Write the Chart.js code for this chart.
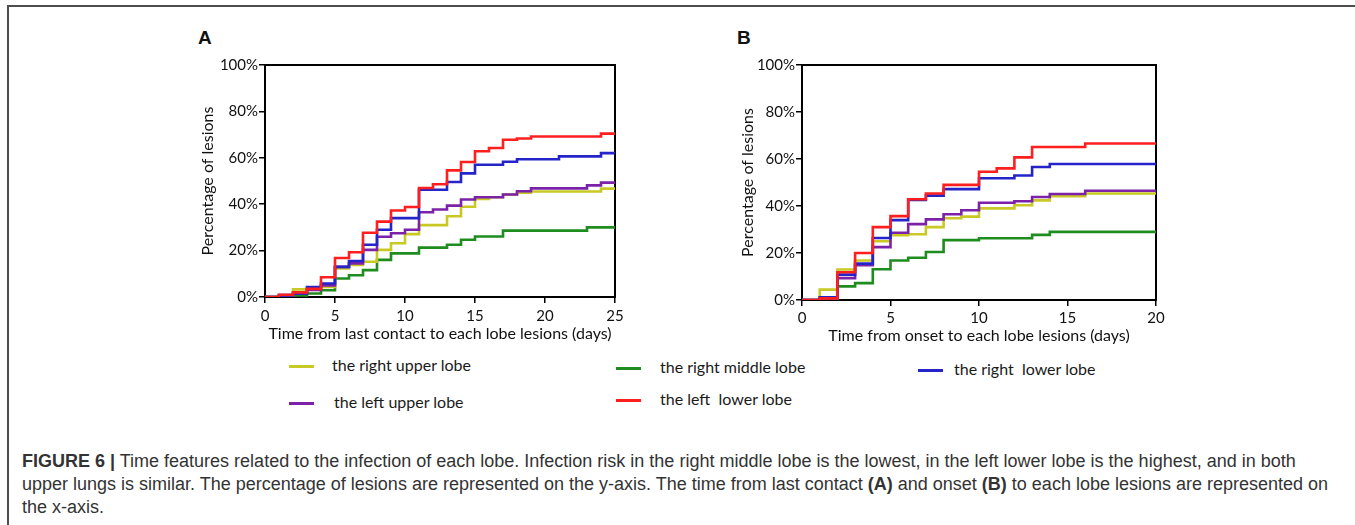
<!DOCTYPE html>
<html>
<head>
<meta charset="utf-8">
<script src="https://cdn.jsdelivr.net/npm/chart.js@4.4.1/dist/chart.umd.min.js"></script>
<style>
  html, body { margin: 0; padding: 0; background: #fff; }
  #page { position: relative; width: 1355px; height: 525px; overflow: hidden; background: #fff; }
  .frame { position: absolute; left: 7px; top: 5px; width: 1500px; height: 600px;
           border-top: 2px solid #4d4d4d; border-left: 2px solid #4d4d4d; }
  .panel { position: absolute; width: 440px; height: 300px; }
  .tag { position: absolute; font: bold 19px "Liberation Sans", Arial, sans-serif; color: #111; }
  .dash { position: absolute; width: 25px; height: 3px; }
  .legtext { position: absolute; font: 16px Lato, "Open Sans", sans-serif; color: #1a1a1a;
             white-space: pre; line-height: 20px; }
  .caption { position: absolute; left: 22px; top: 450px; font: 18px "Liberation Sans", Arial, sans-serif;
             color: #333; line-height: 23px; white-space: nowrap; }
</style>
</head>
<body>
<div id="page">
  <div class="frame"></div>
  <div class="tag" style="left:198px; top:27px;">A</div>
  <div class="tag" style="left:737px; top:27px;">B</div>
  <div class="panel" style="left:190px; top:50px;"><canvas id="chartA"></canvas></div>
  <div class="panel" style="left:730px; top:50px;"><canvas id="chartB"></canvas></div>
  <div id="legend"></div>
  <div class="caption"><b>FIGURE 6 |</b> Time features related to the infection of each lobe. Infection risk in the right middle lobe is the lowest, in the left lower lobe is the highest, and in both<br>upper lungs is similar. The percentage of lesions are represented on the y-axis. The time from last contact <b>(A)</b> and onset <b>(B)</b> to each lobe lesions are represented on<br>the x-axis.</div>
</div>
<script>
// ---- Data ----
const seriesNames = ['the left  lower lobe', 'the right  lower lobe', 'the left upper lobe', 'the right upper lobe', 'the right middle lobe'];
const seriesColors = ['#ff1f1f', '#2424c8', '#7b22a8', '#c9c926', '#1f8c1f'];
const yTicks = [0, 20, 40, 60, 80, 100];

// panel A: days since last contact, value from that day onward (%)
const daysA = [0,1,2,3,4,5,6,7,8,9,10,11,12,13,14,15,16,17,18,19,20,21,22,23,24,25];
const leftLowerA   = [0,1,2,3.5,8.5,16.8,19.3,27.7,32.5,37.3,38.8,47,48.6,54.6,58.2,62.8,64.2,67.8,68.3,69.2,69.2,69.2,69.2,69.2,70.4,70.4];
const rightLowerA  = [0,0.8,1.5,4.3,5.8,13,15.5,22.5,29,34,34,46.2,46.2,49.6,53.3,57,57,58.3,59.4,59.4,59.4,60.6,60.6,60.6,62,62];
const leftUpperA   = [0,0.5,1.5,3,5,13,14.5,20.3,26,27.5,29,36.5,37.7,39.4,42,43,43,44.2,45.6,46.8,46.8,46.8,46.8,48.1,49.3,49.3];
const rightUpperA  = [0,0.5,3.3,3.8,4.3,12.3,13.8,15.2,20.3,23.2,27.1,31,31,34.8,38.9,42.3,43,44.2,45,45.5,45.5,45.5,45.5,45.5,46.7,46.7];
const rightMiddleA = [0,0,0.7,1.5,2.9,8,9.4,11.6,16,18.8,18.8,21.3,21.3,22.5,24.7,26.1,26.1,28.6,28.6,28.6,28.6,28.6,28.6,30,30,30];

// panel B: days since onset
const daysB = [0,1,2,3,4,5,6,7,8,9,10,11,12,13,14,15,16,17,18,19,20];
const leftLowerB   = [0,0.7,11.8,20,31,35.7,42.9,45.3,49,49,54.6,56,60.7,65.1,65.1,65.1,66.6,66.6,66.6,66.6,66.6];
const rightLowerB  = [0,1.2,10.8,15.5,26.4,34,42.6,44.4,47.2,47.2,51.8,51.8,53,56.6,57.9,57.9,57.9,57.9,57.9,57.9,57.9];
const leftUpperB   = [0,0.7,9.3,14.8,22.5,28.6,32.3,34.3,36.5,38.2,41.4,41.4,42,43.8,45.1,45.1,46.5,46.5,46.5,46.5,46.5];
const rightUpperB  = [0,4.4,13,16.8,25,27.6,28,31,34.8,35.5,39,39,40.3,42.4,44.2,44.2,45.3,45.3,45.3,45.3,45.3];
const rightMiddleB = [0,0.3,5.8,7.2,13.1,16.8,18,20.4,25.5,25.5,26.3,26.3,26.3,27.7,29,29,29,29,29,29,29];

// ---- Plot box (drawn under the lines) ----
const boxPlugin = {
  id: 'boxPlugin',
  beforeDatasetsDraw(chart) {
    const a = chart.chartArea, ctx = chart.ctx;
    ctx.save();
    ctx.strokeStyle = '#000';
    ctx.lineWidth = 2;
    ctx.strokeRect(a.left, a.top, a.right - a.left, a.bottom - a.top);
    ctx.restore();
  }
};

function makeChart(id, days, values, xMax, xTitle, lay) {
  const tickFont = { family: 'Lato, "Open Sans", sans-serif', size: 15 };
  const titleFont = { family: 'Lato, "Open Sans", sans-serif', size: 16 };
  return new Chart(document.getElementById(id), {
    type: 'line',
    data: {
      datasets: values.map((vals, i) => ({
        label: seriesNames[i],
        data: days.map((d, k) => ({ x: d, y: vals[k] })),
        borderColor: seriesColors[i],
        borderWidth: 2.6,
        pointRadius: 0,
        stepped: 'before',
        fill: false
      }))
    },
    options: {
      responsive: true,
      maintainAspectRatio: false,
      animation: false,
      events: [],
      layout: { padding: { left: 0, right: lay.right, top: lay.top, bottom: 0 } },
      plugins: { legend: { display: false }, tooltip: { enabled: false } },
      scales: {
        x: {
          type: 'linear', min: 0, max: xMax,
          afterFit: s => { s.height = lay.xH; },
          ticks: { stepSize: 5, color: '#111', font: tickFont, padding: lay.xTickPad, maxRotation: 0 },
          grid: { drawOnChartArea: false, drawTicks: true, tickLength: 6, color: '#000', lineWidth: 1.5 },
          border: { display: false },
          title: { display: true, text: xTitle, color: '#111', font: titleFont, padding: { top: 0, bottom: lay.xPad } }
        },
        y: {
          min: 0, max: 100,
          afterFit: s => { s.width = lay.yW; },
          afterBuildTicks: s => { s.ticks = yTicks.map(v => ({ value: v })); },
          ticks: { color: '#111', font: tickFont, padding: 1, callback: v => v + '%' },
          grid: { drawOnChartArea: false, drawTicks: true, tickLength: 6, color: '#000', lineWidth: 1.5 },
          border: { display: false },
          title: { display: true, text: 'Percentage of lesions', color: '#111', font: titleFont, padding: { top: 8, bottom: 0 } }
        }
      }
    },
    plugins: [boxPlugin]
  });
}

makeChart('chartA', daysA, [leftLowerA, rightLowerA, leftUpperA, rightUpperA, rightMiddleA], 25,
  'Time from last contact to each lobe lesions (days)', { right: 15, top: 15, xH: 53, yW: 75, xPad: 7, xTickPad: 4 });
makeChart('chartB', daysB, [leftLowerB, rightLowerB, leftUpperB, rightUpperB, rightMiddleB], 20,
  'Time from onset to each lobe lesions (days)', { right: 14, top: 15, xH: 50, yW: 72, xPad: 5, xTickPad: 3 });

// ---- Shared legend ----
const legendSpots = [
  { i: 3, dashX: 289, textX: 332, y: 366 },
  { i: 2, dashX: 289, textX: 334, y: 403 },
  { i: 4, dashX: 616, textX: 660, y: 368 },
  { i: 0, dashX: 616, textX: 660, y: 400 },
  { i: 1, dashX: 918, textX: 954, y: 370 }
];
const legendBox = document.getElementById('legend');
legendSpots.forEach(p => {
  const dash = document.createElement('div');
  dash.className = 'dash';
  dash.style.left = p.dashX + 'px';
  dash.style.top = (p.y - 1) + 'px';
  dash.style.background = seriesColors[p.i];
  const txt = document.createElement('div');
  txt.className = 'legtext';
  txt.style.left = p.textX + 'px';
  txt.style.top = (p.y - 11) + 'px';
  txt.textContent = seriesNames[p.i];
  legendBox.appendChild(dash);
  legendBox.appendChild(txt);
});
</script>
</body>
</html>
